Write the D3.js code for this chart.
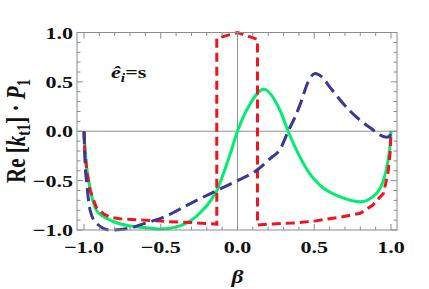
<!DOCTYPE html>
<html><head><meta charset="utf-8">
<script src="https://cdn.jsdelivr.net/npm/d3@7"></script>
<style>body{margin:0;background:#fff}svg{display:block}text{font-family:"Liberation Serif","Times New Roman",serif;font-weight:bold;fill:#111}</style>
</head><body><svg id="c" width="429" height="289"></svg>
<script>
const xTicks = [-1.0, -0.5, 0.0, 0.5, 1.0];
const yTicks = [-1.0, -0.5, 0.0, 0.5, 1.0];

const redBeta = [-1, -0.995, -0.98, -0.96, -0.92, -0.87, -0.83, -0.75, -0.61, -0.45, -0.3, -0.135, -0.135, 0, 0.13, 0.13, 0.2, 0.36, 0.5, 0.67, 0.8, 0.88, 0.95, 0.98, 0.995, 1];
const redVal  = [0, -0.2, -0.42, -0.6, -0.77, -0.84, -0.87, -0.89, -0.9, -0.915, -0.925, -0.94, 0.94, 1.0, 0.93, -0.95, -0.94, -0.93, -0.91, -0.87, -0.83, -0.75, -0.63, -0.43, -0.2, 0];

const greenBeta = [-1, -0.99, -0.975, -0.96, -0.92, -0.83, -0.7, -0.61, -0.5, -0.37, -0.24, -0.135, -0.05, 0, 0.08, 0.17, 0.28, 0.33, 0.41, 0.47, 0.54, 0.67, 0.8, 0.88, 0.95, 0.98, 0.995, 1];
const greenVal  = [0, -0.25, -0.45, -0.58, -0.8, -0.9, -0.96, -0.975, -0.99, -0.955, -0.82, -0.6, -0.24, 0, 0.27, 0.425, 0.2, 0, -0.27, -0.43, -0.55, -0.665, -0.715, -0.665, -0.5, -0.3, -0.12, 0];

const blueBeta = [-1, -0.995, -0.98, -0.96, -0.92, -0.83, -0.7, -0.61, -0.48, -0.33, -0.135, 0, 0.125, 0.21, 0.28, 0.33, 0.375, 0.41, 0.46, 0.505, 0.55, 0.6, 0.73, 0.86, 0.97, 0.99, 1];
const blueVal  = [0, -0.25, -0.56, -0.8, -0.93, -1.0, -0.98, -0.935, -0.87, -0.75, -0.6, -0.5, -0.395, -0.28, -0.175, 0, 0.145, 0.28, 0.5, 0.585, 0.55, 0.45, 0.21, 0.04, -0.06, -0.05, 0];

const svg = d3.select("#c");
const L = 77, R = 397, T = 32.5, B = 230;
const SX = 1.3; // horizontal stretch of the glyphs
const x = d3.scaleLinear().domain([-1.0456, 1.039]).range([L, R]);
const y = d3.scaleLinear().domain([-1, 1]).range([B, T]);
const frameCol = "#8c8c8c";

// zero axes
svg.append("line").attr("x1", L).attr("x2", R).attr("y1", y(0)).attr("y2", y(0)).attr("stroke", "#777").attr("stroke-width", 0.8);
svg.append("line").attr("x1", x(0)).attr("x2", x(0)).attr("y1", T).attr("y2", B).attr("stroke", "#777").attr("stroke-width", 0.8);

// curves
const line = (xs, ys, curve) => d3.line().x((d, i) => x(xs[i])).y((d, i) => y(ys[i])).curve(curve)(xs);
svg.append("path").attr("d", line(greenBeta, greenVal, d3.curveMonotoneX)).attr("fill", "none").attr("stroke", "#00ee70").attr("stroke-width", 3);
svg.append("path").attr("d", line(redBeta, redVal, d3.curveLinear)).attr("fill", "none").attr("stroke", "#f0141e").attr("stroke-width", 3).attr("stroke-dasharray", "9,5");
svg.append("path").attr("d", line(blueBeta, blueVal, d3.curveMonotoneX)).attr("fill", "none").attr("stroke", "#383896").attr("stroke-width", 3).attr("stroke-dasharray", "13,6");

// frame
svg.append("rect").attr("x", L).attr("y", T).attr("width", R - L).attr("height", B - T).attr("fill", "none").attr("stroke", frameCol).attr("stroke-width", 1);

// ticks
const minor = d3.range(-10, 11).map(v => v / 10);
minor.forEach(v => {
  const major = xTicks.some(t => Math.abs(t - v) < 1e-9);
  const len = major ? 6 : 3.5;
  svg.append("line").attr("x1", x(v)).attr("x2", x(v)).attr("y1", B).attr("y2", B - len).attr("stroke", frameCol);
  svg.append("line").attr("x1", x(v)).attr("x2", x(v)).attr("y1", T).attr("y2", T + len).attr("stroke", frameCol);
});
minor.forEach(v => {
  const major = yTicks.some(t => Math.abs(t - v) < 1e-9);
  const len = major ? 6 : 3.5;
  svg.append("line").attr("y1", y(v)).attr("y2", y(v)).attr("x1", L).attr("x2", L + len).attr("stroke", frameCol);
  svg.append("line").attr("y1", y(v)).attr("y2", y(v)).attr("x1", R).attr("x2", R - len).attr("stroke", frameCol);
});

const fmt = v => (v < 0 ? "\u2212" : "") + Math.abs(v).toFixed(1);
svg.selectAll(".xt").data(xTicks).enter().append("text")
  .attr("transform", d => `translate(${x(d)},253) scale(${SX},1)`)
  .attr("text-anchor", "middle").attr("font-size", 17).text(fmt);
svg.selectAll(".yt").data(yTicks).enter().append("text")
  .attr("transform", d => `translate(73,${y(d) + 6}) scale(${SX},1)`)
  .attr("text-anchor", "end").attr("font-size", 17).text(fmt);

// x label
svg.append("text").attr("transform", `translate(${x(0)},283) scale(${SX},1)`).attr("text-anchor", "middle")
  .attr("font-size", 18).attr("font-style", "italic").text("β");

// y label
const yl = svg.append("text").attr("transform", `translate(25,131) scale(${SX},1) rotate(-90)`).attr("text-anchor", "middle").attr("font-size", 21);
yl.append("tspan").text("Re [");
yl.append("tspan").attr("font-style", "italic").text("k");
yl.append("tspan").attr("font-size", 14.5).attr("dy", 4).text("t1");
yl.append("tspan").attr("dy", -4).text("] \u00b7 ");
yl.append("tspan").attr("font-style", "italic").text("P");
yl.append("tspan").attr("font-size", 14.5).attr("dy", 4).text("1");

// annotation
const an = svg.append("text").attr("transform", `translate(111,78) scale(${SX},1)`).attr("font-size", 17);
an.append("tspan").attr("font-style", "italic").text("\u00ea");
an.append("tspan").attr("font-style", "italic").attr("font-size", 12).attr("dy", 4).text("i");
an.append("tspan").attr("dy", -4).text("=s");
</script></body></html>
